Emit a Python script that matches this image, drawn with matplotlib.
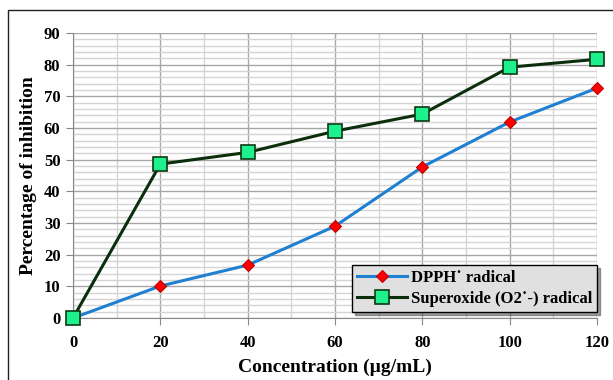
import matplotlib
matplotlib.use("Agg")
import matplotlib.pyplot as plt
from matplotlib.ticker import MultipleLocator
from matplotlib.patches import Rectangle

conc = [0, 20, 40, 60, 80, 100, 120]
dpph = [0, 10.1, 16.7, 29.0, 47.7, 61.9, 72.6]
superoxide = [0, 48.6, 52.3, 59.0, 64.4, 79.2, 81.7]
dpph_label = "DPPH˙ radical"
sup_label = "Superoxide (O2˙-) radical"

plt.rcParams['font.family'] = ['Liberation Serif', 'DejaVu Serif']
plt.rcParams['font.weight'] = 'bold'

fig = plt.figure(figsize=(6.13, 3.80), dpi=100)
fig.patches.append(Rectangle((8/613, -0.01), 1.0, 1 - 10/380 + 0.01, transform=fig.transFigure,
                             fill=False, edgecolor='#222222', linewidth=1.0))
ax = fig.add_axes([73/613, 1 - 318/380, (597-73)/613, (318-33)/380])

ax.set_xlim(0, 120)
ax.set_ylim(0, 90)
ax.xaxis.set_major_locator(MultipleLocator(20))
ax.xaxis.set_minor_locator(MultipleLocator(10))
ax.yaxis.set_major_locator(MultipleLocator(10))
ax.yaxis.set_minor_locator(MultipleLocator(2))
ax.grid(which='major', color='#a6a6a6', linewidth=1.0)
ax.grid(which='minor', color='#d4d4d4', linewidth=1.0)
ax.set_axisbelow(True)
for s in ['top', 'right']:
    ax.spines[s].set_visible(False)
for s in ['left', 'bottom']:
    ax.spines[s].set_color('#888888')
ax.tick_params(which='major', axis='y', length=5, color='#888888', labelsize=12, pad=4)
ax.tick_params(which='major', axis='x', length=5, color='#888888', labelsize=12, pad=7)
ax.tick_params(which='minor', length=0)
for lab in ax.get_xticklabels() + ax.get_yticklabels():
    lab.set_fontweight('bold')

ax.plot(conc, dpph, color='#1f7fd0', linewidth=2.2, marker='D', markersize=6,
        markerfacecolor='#ff0000', markeredgecolor='#c00000', markeredgewidth=0.8,
        label=dpph_label, clip_on=False, zorder=3)
ax.plot(conc, superoxide, color='#0b2e0b', linewidth=2.2, marker='s', markersize=9.5,
        markerfacecolor='#1ef08e', markeredgecolor='#0b3a14', markeredgewidth=1.2,
        label=sup_label, clip_on=False, zorder=4)

ax.set_xlabel("Concentration (µg/mL)", fontsize=14, fontweight='bold', labelpad=6)
ax.set_ylabel("Percentage of inhibition", fontsize=14, fontweight='bold', labelpad=5)

leg = ax.legend(loc='lower right', bbox_to_anchor=(1.0, 0.02), frameon=True, fancybox=False,
                shadow=True, facecolor='#e0e0e0', edgecolor='#000000', framealpha=1,
                prop={'family': ['Liberation Serif', 'DejaVu Serif'], 'weight': 'bold', 'size': 12},
                handlelength=3.0, handletextpad=0.2, borderpad=0.3, labelspacing=0.3,
                borderaxespad=0.0)
leg.get_frame().set_linewidth(1.0)

fig.savefig("out.png", dpi=100)
